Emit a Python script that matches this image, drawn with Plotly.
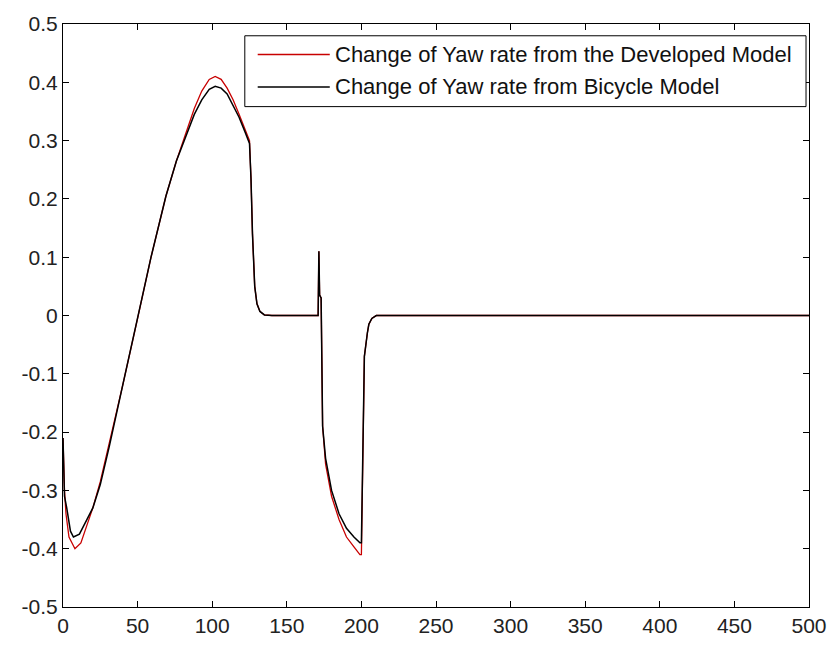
import plotly.graph_objects as go

# Developed model (red)
x_dev = [0, 1, 2, 4, 8, 12, 16, 20, 25, 31, 40, 50, 59, 69, 76, 82, 88, 93, 98, 102,
         106, 110, 114, 118, 122, 125, 126, 127, 128.5, 130, 132, 135, 140, 171, 171.5,
         172, 173, 173.5, 174, 176, 180, 185, 190, 195, 199, 200, 200.5, 201, 202, 204,
         205, 207, 210, 215, 300, 400, 500]
y_dev = [-0.21, -0.30, -0.34, -0.38, -0.40, -0.39, -0.36, -0.33, -0.285, -0.22, -0.12,
         -0.005, 0.10, 0.205, 0.265, 0.31, 0.355, 0.385, 0.405, 0.41,
         0.405, 0.39, 0.37, 0.345, 0.32, 0.30, 0.235, 0.14, 0.05, 0.02, 0.007, 0.001, 0.0, 0.0, 0.11,
         0.035, 0.03, -0.17, -0.19, -0.255, -0.31, -0.35, -0.38, -0.397, -0.41, -0.41, -0.31, -0.19, -0.07, -0.03,
         -0.015, -0.005, 0.0, 0.0, 0.0, 0.0, 0.0]

# Bicycle model (black)
x_bic = [0, 1, 2.5, 5, 7, 11, 16, 20, 25, 31, 40, 50, 59, 69, 76, 82, 88, 93, 98, 102,
         106, 110, 114, 118, 122, 125, 126, 127, 128.5, 130, 132, 135, 140, 171, 171.5,
         172, 173, 173.5, 174, 176, 180, 185, 190, 195, 199, 200, 200.5, 201, 202, 204,
         205, 207, 210, 215, 300, 400, 500]
y_bic = [-0.21, -0.31, -0.33, -0.37, -0.38, -0.375, -0.35, -0.33, -0.29, -0.225, -0.12,
         -0.005, 0.10, 0.205, 0.265, 0.305, 0.345, 0.37, 0.388, 0.393,
         0.39, 0.38, 0.36, 0.34, 0.315, 0.295, 0.235, 0.14, 0.05, 0.02, 0.007, 0.001, 0.0, 0.0, 0.11,
         0.035, 0.03, -0.17, -0.19, -0.245, -0.30, -0.34, -0.365, -0.38, -0.39, -0.39, -0.31, -0.19, -0.07, -0.03,
         -0.015, -0.005, 0.0, 0.0, 0.0, 0.0, 0.0]

x_ticks = [0, 50, 100, 150, 200, 250, 300, 350, 400, 450, 500]
x_labels = ["0", "50", "100", "150", "200", "250", "300", "350", "400", "450", "500"]
y_ticks = [-0.5, -0.4, -0.3, -0.2, -0.1, 0, 0.1, 0.2, 0.3, 0.4, 0.5]
y_labels = ["-0.5", "-0.4", "-0.3", "-0.2", "-0.1", "0", "0.1", "0.2", "0.3", "0.4", "0.5"]

names = ["Change of Yaw rate from the Developed Model", "Change of Yaw rate from Bicycle Model"]
colors = ["#c80000", "#000000"]

FONT = "Liberation Sans, Arial, Helvetica"

fig = go.Figure()
fig.add_trace(go.Scatter(x=x_dev, y=y_dev, mode="lines", name=names[0],
                         line=dict(color=colors[0], width=1.3), showlegend=False))
fig.add_trace(go.Scatter(x=x_bic, y=y_bic, mode="lines", name=names[1],
                         line=dict(color=colors[1], width=1.5), showlegend=False))

axis_common = dict(showgrid=False, zeroline=False, showline=True, linecolor="black",
                   linewidth=1, mirror="ticks", ticks="inside", ticklen=6,
                   tickcolor="black", tickfont=dict(family=FONT, size=21, color="#222"))

# Legend box drawn in paper coordinates (MATLAB-style legend)
box = dict(x0=0.2437, x1=0.996, y0=0.8583, y1=0.9798)
row_y = [0.9477, 0.8921]
line_x = [0.261, 0.3576]
text_x = 0.362

shapes = [dict(type="rect", xref="paper", yref="paper", x0=box["x0"], x1=box["x1"],
               y0=box["y0"], y1=box["y1"], line=dict(color="black", width=1),
               fillcolor="white", layer="above")]
annotations = []
for nm, col, ry in zip(names, colors, row_y):
    shapes.append(dict(type="line", xref="paper", yref="paper", x0=line_x[0], x1=line_x[1],
                       y0=ry, y1=ry, line=dict(color=col, width=1.5), layer="above"))
    annotations.append(dict(xref="paper", yref="paper", x=text_x, y=ry, xanchor="left",
                            yanchor="middle", text=nm, showarrow=False,
                            font=dict(family=FONT, size=22, color="#111")))

fig.update_layout(
    width=839, height=649,
    margin=dict(l=63, r=21, t=21, b=35),
    paper_bgcolor="white", plot_bgcolor="white",
    xaxis=dict(range=[0, 500], tickvals=x_ticks, ticktext=x_labels, **axis_common),
    yaxis=dict(range=[-0.5, 0.5], tickvals=y_ticks, ticktext=y_labels, **axis_common),
    shapes=shapes,
    annotations=annotations,
    showlegend=False,
)

fig.write_html("out.html")
